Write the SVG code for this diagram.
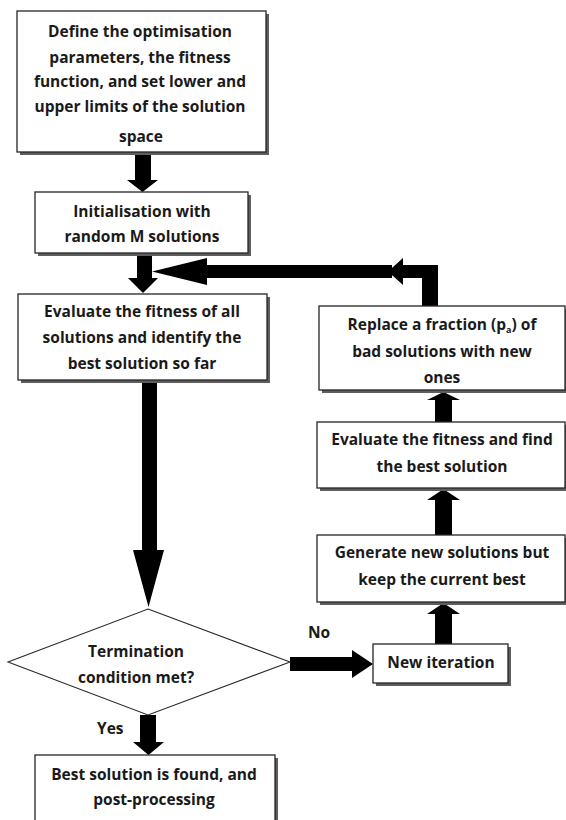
<svg xmlns="http://www.w3.org/2000/svg" width="566" height="820" viewBox="0 0 566 820">
<style>
.bg{fill:#ffffff}
.sh{fill:#5e5e5e}
.box{fill:#ffffff;stroke:#262626;stroke-width:1.3}
.dia{fill:#ffffff;stroke:#2a2a2a;stroke-width:1.1}
.arr{fill:#000000}
text{font-family:"Open Sans","Liberation Sans",sans-serif;font-weight:bold;font-size:15.5px;fill:#1a1a1a;text-anchor:middle}
.lbl{text-anchor:start}
</style>
<rect class="bg" x="0" y="0" width="566" height="820"/>
<g id="connectors">
<polygon class="arr" points="135,153 151,153 151,180 158,180 142.5,192 127,180 135,180"/>
<polygon class="arr" points="137,253 152,253 152,278 158,278 143,293 128,278 137,278"/>
<polygon class="arr" points="142,380 157,380 157,550 164,550 148.5,607 133,550 142,550"/>
<polygon class="arr" points="140,715 156,715 156,742 164,742 148.5,755 133,742 140,742"/>
<polygon class="arr" points="290,657 352,657 352,650 373,664 352,678 352,671 290,671"/>
<polygon class="arr" points="435,422 452,422 452,400 460,400 443.5,392 427,400 435,400"/>
<polygon class="arr" points="435,535 452,535 452,500 460,500 443.5,489 427,500 435,500"/>
<polygon class="arr" points="435,644 452,644 452,614 460,614 443.5,603 427,614 435,614"/>
<polygon class="arr" points="422,306 438,306 438,265 403,265 403,258 388,271.5 403,285 403,278 422,278"/>
<polygon class="arr" points="392,265 207,265 207,258 152,271.5 207,285 207,278 392,278"/>
<text class="lbl" x="97" y="734">Yes</text>
<text class="lbl" x="308" y="638">No</text>
</g>
<g id="define">
<rect class="sh" x="20" y="14" width="249" height="141"/>
<rect class="box" x="17" y="11" width="249" height="141"/>
<text x="140" y="37">Define the optimisation</text>
<text x="140" y="63">parameters, the fitness</text>
<text x="140" y="87">function, and set lower and</text>
<text x="140" y="112">upper limits of the solution</text>
<text x="141" y="142">space</text>
</g>
<g id="init">
<rect class="sh" x="38" y="195" width="213" height="61"/>
<rect class="box" x="35" y="192" width="213" height="61"/>
<text x="142" y="217">Initialisation with</text>
<text x="142" y="242">random M solutions</text>
</g>
<g id="evaluate">
<rect class="sh" x="21" y="297" width="249" height="86"/>
<rect class="box" x="18" y="294" width="249" height="86"/>
<text x="142" y="317">Evaluate the fitness of all</text>
<text x="142" y="343">solutions and identify the</text>
<text x="142" y="369">best solution so far</text>
</g>
<g id="termination">
<polygon class="dia" points="148,609 290,662 148,715 8,662"/>
<text x="136" y="657">Termination</text>
<text x="136" y="683">condition met?</text>
</g>
<g id="best">
<rect class="sh" x="38" y="758" width="240" height="70"/>
<rect class="box" x="35" y="755" width="240" height="70"/>
<text x="154" y="780">Best solution is found, and</text>
<text x="154" y="805">post-processing</text>
</g>
<g id="new-iteration">
<rect class="sh" x="376" y="647" width="135" height="39"/>
<rect class="box" x="373" y="644" width="135" height="39"/>
<text x="441" y="668">New iteration</text>
</g>
<g id="generate">
<rect class="sh" x="320" y="538" width="248" height="67"/>
<rect class="box" x="317" y="535" width="248" height="67"/>
<text x="442" y="558">Generate new solutions but</text>
<text x="442" y="585">keep the current best</text>
</g>
<g id="evaluate-best">
<rect class="sh" x="320" y="425" width="248" height="66"/>
<rect class="box" x="317" y="422" width="248" height="66"/>
<text x="442" y="445">Evaluate the fitness and find</text>
<text x="442" y="472">the best solution</text>
</g>
<g id="replace">
<rect class="sh" x="322" y="309" width="246" height="84"/>
<rect class="box" x="319" y="306" width="246" height="84"/>
<text x="442" y="330">Replace a fraction (p<tspan font-size="9" dy="3">a</tspan><tspan dy="-3">) of</tspan></text>
<text x="442" y="357">bad solutions with new</text>
<text x="442" y="383">ones</text>
</g>
</svg>
